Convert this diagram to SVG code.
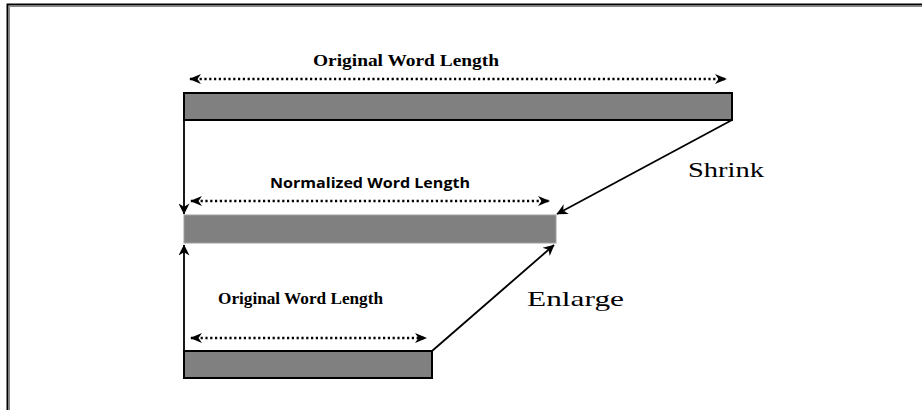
<svg xmlns="http://www.w3.org/2000/svg" width="922" height="410" viewBox="0 0 922 410">
  <style>
    .frame { stroke: #000; stroke-width: 2; fill: none; }
    .bar { fill: #808080; stroke: #000; stroke-width: 2; }
    .bar-soft { fill: #808080; stroke: #a0a0a0; stroke-width: 1; }
    .dim { stroke: #000; stroke-width: 2.4; stroke-dasharray: 2.2 2.6; fill: none; }
    .conn { stroke: #000; stroke-width: 1.8; fill: none; }
    .lbl-serif { font-family: "Liberation Serif", "Times New Roman", serif; font-weight: bold; font-size: 16px; fill: #000; }
    .lbl-sans { font-family: "Open Sans", "Liberation Sans", sans-serif; font-weight: bold; font-size: 14.5px; fill: #000; }
    .op { font-family: "Liberation Serif", "Times New Roman", serif; font-size: 22px; fill: #000; }
  </style>
  <defs>
    <marker id="dimhead" viewBox="0 0 12 10" refX="11" refY="5" markerWidth="12" markerHeight="10" orient="auto-start-reverse" markerUnits="userSpaceOnUse">
      <path d="M0,0 L12,5 L0,10 L3.5,5 Z" fill="#000"/>
    </marker>
    <marker id="arrow" viewBox="0 0 10 10" refX="9.5" refY="5" markerWidth="13" markerHeight="11" orient="auto" markerUnits="userSpaceOnUse">
      <path d="M0,0 L10,5 L0,10 L3,5 Z" fill="#000"/>
    </marker>
  </defs>

  <rect width="922" height="410" fill="#fff"/>

  <!-- page frame: top and left rules only -->
  <path class="frame" d="M7.5,410 V4.5 H922"/>
  <path d="M9.5,410 V6.5 H922" stroke="#888" stroke-width="1" fill="none"/>

  <!-- original (long) word -->
  <g id="long-word">
    <line class="dim" x1="190" y1="79" x2="726" y2="79" marker-start="url(#dimhead)" marker-end="url(#dimhead)"/>
    <text class="lbl-serif" x="313" y="66" textLength="186" lengthAdjust="spacingAndGlyphs">Original Word Length</text>
    <rect class="bar" x="184" y="93" width="548" height="27"/>
  </g>

  <!-- normalized word -->
  <g id="normalized-word">
    <line class="dim" x1="191" y1="201" x2="549" y2="201" marker-start="url(#dimhead)" marker-end="url(#dimhead)"/>
    <text class="lbl-sans" x="270" y="188" textLength="200" lengthAdjust="spacingAndGlyphs">Normalized Word Length</text>
    <rect class="bar-soft" x="184" y="215" width="372" height="28"/>
  </g>

  <!-- original (short) word -->
  <g id="short-word">
    <line class="dim" x1="191" y1="338" x2="426" y2="338" marker-start="url(#dimhead)" marker-end="url(#dimhead)"/>
    <text class="lbl-serif" x="218" y="304" textLength="165" lengthAdjust="spacingAndGlyphs">Original Word Length</text>
    <rect class="bar" x="184" y="351" width="248" height="27"/>
  </g>

  <!-- operation labels -->
  <g id="shrink-label">
    <text class="op" x="688" y="177" textLength="76" lengthAdjust="spacingAndGlyphs">Shrink</text>
  </g>
  <g id="enlarge-label">
    <text class="op" x="527" y="306" textLength="97" lengthAdjust="spacingAndGlyphs">Enlarge</text>
  </g>

  <!-- connectors -->
  <g id="connectors">
    <line class="conn" x1="184" y1="120" x2="184" y2="214" marker-end="url(#arrow)"/>
    <line class="conn" x1="184" y1="351" x2="184" y2="245" marker-end="url(#arrow)"/>
    <line class="conn" x1="732" y1="120" x2="557" y2="214" marker-end="url(#arrow)"/>
    <line class="conn" x1="432" y1="351" x2="554" y2="245" marker-end="url(#arrow)"/>
  </g>
</svg>
